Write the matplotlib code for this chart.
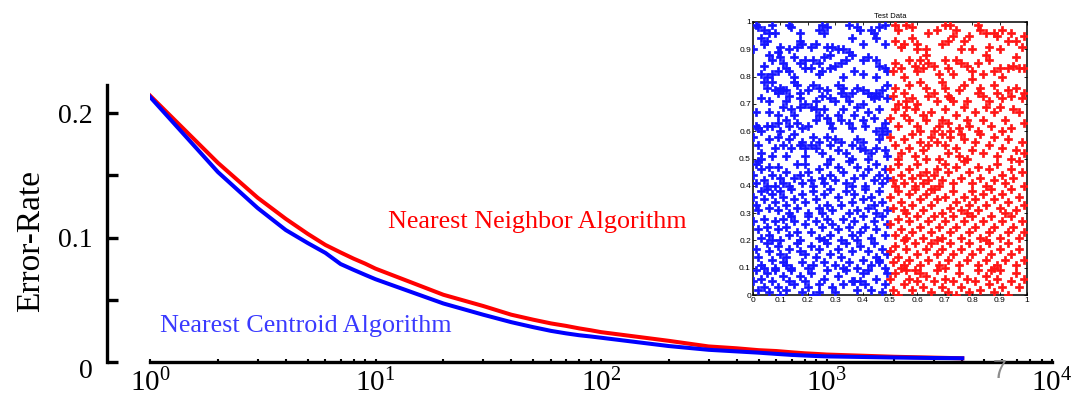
import matplotlib
matplotlib.use("Agg")
import matplotlib.pyplot as plt
import matplotlib.transforms as mtransforms
from matplotlib.ticker import FixedLocator, FixedFormatter, LogLocator, NullFormatter
import numpy as np

# ---------------- data ----------------
n_train = [1, 2, 3, 4, 5, 6, 7, 8, 9, 10, 20, 30, 40, 50, 60, 70, 80, 90, 100,
           200, 300, 400, 500, 600, 700, 800, 900, 1000, 2000, 3000, 4000]
err_nn = [0.214, 0.160, 0.132, 0.115, 0.103, 0.094, 0.088, 0.083, 0.079, 0.075,
          0.054, 0.045, 0.038, 0.034, 0.031, 0.029, 0.027, 0.0255, 0.024,
          0.017, 0.0125, 0.011, 0.0095, 0.0088, 0.0078, 0.007, 0.0065, 0.006,
          0.0042, 0.0035, 0.003]
err_nc = [0.213, 0.1526, 0.1237, 0.106, 0.0956, 0.0876, 0.0787, 0.074, 0.070, 0.0665,
          0.047, 0.038, 0.032, 0.028, 0.025, 0.023, 0.0215, 0.0205, 0.0195,
          0.0128, 0.0098, 0.0085, 0.0075, 0.0065, 0.0057, 0.0052, 0.0048, 0.0045,
          0.0036, 0.0032, 0.003]

y_ticks = [0, 0.05, 0.1, 0.15, 0.2]
y_ticklabels = ["0", "", "0.1", "", "0.2"]

blue_pts = [
    (0.01,0.99),(0.02,0.98),(0.04,0.97),(0.06,0.96),(0.07,0.99),(0.08,0.96),(0.03,0.94),(0.05,0.93),(0.04,0.92),(0.13,0.99),
    (0.14,0.98),(0.17,0.96),(0.17,0.93),(0.18,0.92),(0.16,0.91),(0.13,0.90),(0.10,0.91),(0.00,0.90),(0.25,0.99),(0.24,0.97),
    (0.27,0.98),(0.26,0.96),(0.35,0.99),(0.38,0.98),(0.39,0.97),(0.43,0.97),(0.44,0.96),(0.46,0.98),(0.48,0.99),(0.36,0.94),
    (0.40,0.92),(0.45,0.94),(0.48,0.92),(0.23,0.92),(0.27,0.91),(0.29,0.91),(0.31,0.90),(0.33,0.90),(0.35,0.89),(0.21,0.91),(0.09,0.89),
    (0.06,0.88),(0.07,0.86),(0.10,0.87),(0.11,0.85),(0.12,0.83),(0.09,0.82),(0.07,0.81),(0.04,0.84),(0.03,0.81),(0.15,0.87),
    (0.17,0.85),(0.19,0.86),(0.22,0.86),(0.24,0.85),(0.26,0.87),(0.28,0.88),(0.30,0.84),(0.32,0.85),(0.34,0.86),(0.36,0.88),
    (0.19,0.83),(0.21,0.83),(0.25,0.82),(0.28,0.83),(0.15,0.80),(0.13,0.82),(0.40,0.86),(0.42,0.87),(0.45,0.86),(0.46,0.84),
    (0.48,0.83),(0.49,0.82),(0.40,0.81),(0.45,0.80),(0.37,0.82),(0.33,0.80),(0.24,0.81),(0.05,0.80),
    (0.04,0.78),(0.05,0.76),(0.07,0.78),(0.08,0.75),(0.09,0.74),(0.10,0.76),(0.11,0.75),(0.12,0.75),(0.03,0.72),(0.06,0.71),
    (0.15,0.78),(0.16,0.77),(0.17,0.74),(0.17,0.72),(0.20,0.75),(0.22,0.77),(0.24,0.76),(0.25,0.73),(0.27,0.75),(0.28,0.72),
    (0.31,0.77),(0.32,0.74),(0.33,0.76),(0.34,0.73),(0.36,0.74),(0.38,0.76),(0.40,0.75),(0.42,0.74),(0.43,0.73),(0.44,0.72),
    (0.45,0.74),(0.46,0.73),(0.47,0.75),(0.49,0.77),(0.49,0.72),(0.40,0.70),(0.35,0.71),(0.30,0.71),(0.23,0.71),(0.12,0.71),(0.19,0.70),(0.13,0.73),
    (0.01,0.62),(0.02,0.61),(0.03,0.60),(0.05,0.62),(0.07,0.62),(0.09,0.66),(0.09,0.63),(0.10,0.60),(0.12,0.64),(0.13,0.62),
    (0.14,0.68),(0.15,0.66),(0.16,0.63),(0.18,0.61),(0.20,0.62),(0.21,0.69),(0.23,0.68),(0.23,0.64),(0.24,0.66),(0.26,0.68),
    (0.27,0.65),(0.28,0.63),(0.29,0.61),(0.31,0.66),(0.32,0.64),(0.33,0.68),(0.35,0.63),(0.36,0.61),(0.37,0.66),(0.40,0.64),
    (0.41,0.62),(0.42,0.67),(0.44,0.65),(0.45,0.60),(0.47,0.61),(0.49,0.60),(0.48,0.63),(0.46,0.68),(0.38,0.69),(0.11,0.69),(0.06,0.67),(0.01,0.67),(0.17,0.69),
    (0.00,0.58),(0.02,0.55),(0.03,0.52),(0.03,0.50),(0.01,0.48),(0.06,0.57),(0.08,0.54),(0.09,0.58),(0.11,0.55),(0.13,0.57),
    (0.14,0.54),(0.15,0.59),(0.17,0.55),(0.18,0.56),(0.19,0.54),(0.21,0.55),(0.22,0.58),(0.23,0.54),(0.24,0.56),(0.25,0.52),
    (0.27,0.58),(0.28,0.55),(0.30,0.57),(0.31,0.53),(0.32,0.56),(0.34,0.52),(0.36,0.55),(0.38,0.57),(0.39,0.54),(0.40,0.56),
    (0.41,0.53),(0.42,0.50),(0.43,0.52),(0.45,0.54),(0.46,0.57),(0.47,0.59),(0.48,0.53),(0.49,0.51),(0.12,0.51),(0.07,0.51),(0.19,0.51),(0.28,0.50),(0.36,0.50),
    (0.00,0.44),(0.01,0.41),(0.03,0.46),(0.04,0.42),(0.05,0.40),(0.06,0.47),(0.07,0.44),(0.09,0.47),(0.10,0.43),(0.11,0.41),
    (0.12,0.45),(0.13,0.40),(0.15,0.43),(0.16,0.48),(0.17,0.44),(0.18,0.41),(0.20,0.45),(0.21,0.42),(0.22,0.40),(0.24,0.46),
    (0.25,0.43),(0.26,0.41),(0.27,0.48),(0.28,0.44),(0.30,0.42),(0.31,0.47),(0.33,0.45),(0.34,0.41),(0.35,0.49),(0.37,0.43),
    (0.38,0.47),(0.40,0.44),(0.41,0.40),(0.42,0.46),(0.44,0.42),(0.45,0.48),(0.46,0.44),(0.47,0.41),(0.48,0.46),(0.49,0.43),(0.08,0.40),(0.19,0.48),(0.36,0.40),(0.02,0.49),
    (0.00,0.36),(0.01,0.33),(0.02,0.31),(0.03,0.38),(0.04,0.35),(0.06,0.32),(0.07,0.37),(0.08,0.34),(0.09,0.31),(0.10,0.38),
    (0.11,0.36),(0.12,0.33),(0.14,0.39),(0.15,0.35),(0.16,0.32),(0.18,0.37),(0.19,0.34),(0.20,0.30),(0.22,0.38),(0.23,0.35),
    (0.24,0.32),(0.26,0.37),(0.27,0.33),(0.28,0.39),(0.29,0.31),(0.31,0.36),(0.32,0.33),(0.34,0.38),(0.35,0.30),(0.36,0.34),
    (0.37,0.37),(0.38,0.31),(0.40,0.35),(0.41,0.39),(0.42,0.32),(0.43,0.36),(0.45,0.30),(0.46,0.38),(0.47,0.34),(0.49,0.31),(0.13,0.30),(0.05,0.39),(0.25,0.30),(0.44,0.33),
    (0.00,0.27),(0.02,0.24),(0.03,0.21),(0.04,0.28),(0.05,0.25),(0.06,0.22),(0.08,0.27),(0.09,0.24),(0.10,0.20),(0.11,0.28),
    (0.12,0.25),(0.13,0.22),(0.15,0.27),(0.16,0.23),(0.17,0.20),(0.19,0.26),(0.20,0.29),(0.21,0.23),(0.23,0.27),(0.24,0.21),
    (0.25,0.25),(0.27,0.28),(0.28,0.22),(0.29,0.26),(0.31,0.24),(0.32,0.20),(0.33,0.28),(0.35,0.25),(0.36,0.22),(0.37,0.27),
    (0.39,0.23),(0.40,0.29),(0.41,0.25),(0.43,0.21),(0.44,0.27),(0.45,0.24),(0.47,0.29),(0.48,0.22),(0.49,0.26),(0.07,0.20),(0.14,0.29),(0.26,0.20),(0.38,0.20),
    (0.01,0.17),(0.02,0.14),(0.03,0.11),(0.05,0.19),(0.06,0.16),(0.07,0.13),(0.08,0.10),(0.09,0.18),(0.10,0.15),(0.11,0.12),
    (0.12,0.14),(0.12,0.11),(0.13,0.17),(0.14,0.10),(0.16,0.19),(0.17,0.16),(0.18,0.12),(0.19,0.15),(0.21,0.18),(0.22,0.11),
    (0.23,0.14),(0.24,0.17),(0.26,0.12),(0.27,0.19),(0.28,0.15),(0.30,0.11),(0.31,0.17),(0.32,0.14),(0.34,0.19),(0.35,0.12),
    (0.36,0.16),(0.38,0.10),(0.39,0.18),(0.40,0.13),(0.42,0.16),(0.43,0.11),(0.44,0.19),(0.45,0.14),(0.46,0.12),(0.47,0.17),
    (0.48,0.10),(0.49,0.15),(0.04,0.10),(0.20,0.10),(0.33,0.10),
    (0.00,0.05),(0.01,0.09),(0.02,0.02),(0.03,0.06),(0.04,0.03),(0.05,0.08),(0.06,0.01),(0.07,0.05),(0.08,0.09),(0.09,0.03),
    (0.11,0.07),(0.12,0.02),(0.13,0.05),(0.14,0.09),(0.15,0.04),(0.17,0.07),(0.18,0.01),(0.19,0.05),(0.20,0.03),(0.21,0.08),
    (0.22,0.00),(0.24,0.04),(0.24,0.01),(0.26,0.06),(0.27,0.09),(0.29,0.03),(0.30,0.01),(0.31,0.07),(0.33,0.04),(0.34,0.09),
    (0.36,0.05),(0.37,0.05),(0.38,0.02),(0.39,0.05),(0.40,0.08),(0.41,0.04),(0.42,0.09),(0.43,0.02),(0.45,0.06),(0.46,0.13),
    (0.47,0.01),(0.48,0.04),(0.49,0.08),(0.10,0.00),
]
red_pts = [
    (0.52,0.99),(0.53,0.97),(0.56,0.99),(0.58,0.98),(0.52,0.93),(0.55,0.92),(0.58,0.94),(0.60,0.92),(0.63,0.90),(0.64,0.96),
    (0.67,0.97),(0.70,0.99),(0.72,0.99),(0.74,0.97),(0.73,0.95),(0.71,0.93),(0.69,0.92),(0.77,0.93),(0.79,0.95),(0.82,0.99),
    (0.83,0.97),(0.85,0.96),(0.88,0.96),(0.89,0.95),(0.91,0.97),(0.94,0.96),(0.93,0.93),(0.96,0.93),(0.99,0.95),(0.90,0.90),
    (0.86,0.91),(0.80,0.90),(0.76,0.90),(0.60,0.90),(0.54,0.91),(0.98,0.91),
    (0.52,0.85),(0.54,0.83),(0.57,0.86),(0.59,0.84),(0.61,0.86),(0.62,0.83),(0.64,0.85),(0.66,0.84),(0.70,0.86),(0.71,0.83),
    (0.74,0.86),(0.76,0.85),(0.78,0.84),(0.80,0.82),(0.82,0.85),(0.85,0.88),(0.86,0.86),(0.88,0.82),(0.90,0.83),(0.91,0.80),
    (0.93,0.83),(0.95,0.84),(0.97,0.83),(0.99,0.83),(0.55,0.80),(0.60,0.82),(0.68,0.81),(0.73,0.81),(0.84,0.81),(0.51,0.82),(0.63,0.88),(0.96,0.87),
    (0.51,0.73),(0.52,0.76),(0.55,0.74),(0.56,0.71),(0.58,0.72),(0.60,0.70),(0.61,0.78),(0.63,0.76),(0.64,0.73),(0.66,0.74),
    (0.67,0.71),(0.70,0.76),(0.71,0.73),(0.72,0.72),(0.73,0.71),(0.75,0.75),(0.77,0.77),(0.80,0.79),(0.82,0.74),(0.83,0.76),
    (0.84,0.73),(0.86,0.71),(0.88,0.77),(0.89,0.74),(0.91,0.72),(0.93,0.75),(0.94,0.73),(0.96,0.76),(0.98,0.72),(0.99,0.74),(0.53,0.70),(0.78,0.71),(0.69,0.78),(0.57,0.77),
    (0.50,0.65),(0.52,0.68),(0.53,0.62),(0.55,0.66),(0.57,0.64),(0.59,0.68),(0.60,0.62),(0.62,0.66),(0.63,0.64),(0.65,0.67),
    (0.66,0.60),(0.68,0.62),(0.69,0.64),(0.71,0.63),(0.72,0.60),(0.74,0.66),(0.75,0.61),(0.77,0.69),(0.78,0.64),(0.79,0.62),
    (0.81,0.67),(0.82,0.60),(0.84,0.64),(0.85,0.69),(0.87,0.62),(0.88,0.67),(0.90,0.69),(0.92,0.64),(0.94,0.61),(0.95,0.68),(0.97,0.67),(0.99,0.63),(0.56,0.69),(0.61,0.60),(0.70,0.68),(0.91,0.60),
    (0.50,0.58),(0.52,0.55),(0.54,0.52),(0.55,0.57),(0.57,0.54),(0.58,0.59),(0.59,0.51),(0.61,0.56),(0.62,0.53),(0.64,0.55),
    (0.65,0.58),(0.67,0.56),(0.68,0.50),(0.70,0.55),(0.71,0.52),(0.72,0.58),(0.74,0.54),(0.75,0.51),(0.77,0.57),(0.78,0.50),
    (0.80,0.53),(0.81,0.56),(0.83,0.59),(0.84,0.52),(0.86,0.55),(0.88,0.58),(0.89,0.51),(0.91,0.54),(0.93,0.57),(0.94,0.50),(0.96,0.53),(0.98,0.56),(0.99,0.52),(0.53,0.50),(0.63,0.50),(0.76,0.59),(0.69,0.59),
    (0.50,0.46),(0.51,0.42),(0.53,0.48),(0.54,0.44),(0.55,0.41),(0.57,0.46),(0.58,0.43),(0.60,0.48),(0.61,0.44),(0.62,0.41),
    (0.63,0.45),(0.64,0.42),(0.65,0.39),(0.66,0.44),(0.67,0.46),(0.69,0.42),(0.70,0.48),(0.71,0.45),(0.73,0.41),(0.74,0.47),
    (0.76,0.43),(0.77,0.49),(0.79,0.45),(0.80,0.41),(0.82,0.47),(0.83,0.43),(0.85,0.40),(0.86,0.46),(0.88,0.42),(0.89,0.48),
    (0.91,0.44),(0.92,0.41),(0.94,0.46),(0.95,0.43),(0.97,0.49),(0.98,0.45),(0.99,0.40),(0.52,0.40),(0.68,0.40),(0.59,0.40),
    (0.50,0.36),(0.51,0.32),(0.53,0.38),(0.54,0.34),(0.55,0.31),(0.57,0.37),(0.58,0.33),(0.59,0.39),(0.61,0.35),(0.62,0.31),
    (0.63,0.37),(0.65,0.33),(0.66,0.39),(0.67,0.35),(0.69,0.30),(0.70,0.36),(0.72,0.32),(0.73,0.38),(0.74,0.34),(0.76,0.31),
    (0.77,0.36),(0.79,0.33),(0.80,0.38),(0.81,0.35),(0.82,0.31),(0.84,0.37),(0.85,0.33),(0.87,0.39),(0.88,0.35),(0.90,0.32),
    (0.91,0.37),(0.93,0.34),(0.94,0.39),(0.96,0.31),(0.97,0.36),(0.99,0.33),(0.56,0.30),(0.78,0.30),(0.92,0.30),
    (0.50,0.26),(0.52,0.22),(0.53,0.28),(0.54,0.24),(0.56,0.21),(0.57,0.27),(0.58,0.23),(0.60,0.29),(0.61,0.25),(0.62,0.21),
    (0.64,0.27),(0.65,0.23),(0.66,0.29),(0.68,0.25),(0.69,0.21),(0.70,0.27),(0.72,0.23),(0.73,0.29),(0.74,0.25),(0.76,0.21),
    (0.77,0.27),(0.79,0.23),(0.80,0.29),(0.81,0.25),(0.83,0.21),(0.84,0.27),(0.86,0.23),(0.87,0.29),(0.88,0.25),(0.90,0.21),
    (0.91,0.27),(0.93,0.23),(0.94,0.29),(0.95,0.25),(0.97,0.21),(0.98,0.27),(0.99,0.23),(0.55,0.20),(0.67,0.20),(0.85,0.20),
    (0.50,0.16),(0.51,0.12),(0.52,0.18),(0.53,0.14),(0.55,0.11),(0.56,0.17),(0.57,0.13),(0.59,0.19),(0.60,0.15),(0.61,0.11),
    (0.63,0.17),(0.64,0.13),(0.65,0.19),(0.67,0.15),(0.68,0.11),(0.69,0.17),(0.71,0.13),(0.72,0.19),(0.73,0.15),(0.75,0.11),
    (0.76,0.17),(0.78,0.13),(0.79,0.19),(0.80,0.15),(0.82,0.11),(0.83,0.17),(0.85,0.13),(0.86,0.19),(0.87,0.15),(0.89,0.11),
    (0.90,0.17),(0.92,0.13),(0.93,0.19),(0.94,0.15),(0.96,0.11),(0.97,0.17),(0.99,0.13),(0.54,0.10),(0.70,0.10),(0.88,0.10),
    (0.50,0.06),(0.51,0.02),(0.52,0.08),(0.53,0.00),(0.55,0.04),(0.56,0.09),(0.57,0.06),(0.58,0.02),(0.60,0.05),(0.61,0.08),
    (0.62,0.03),(0.63,0.07),(0.65,0.01),(0.66,0.05),(0.67,0.09),(0.69,0.03),(0.70,0.06),(0.71,0.01),(0.73,0.05),(0.74,0.00),
    (0.75,0.08),(0.76,0.03),(0.78,0.06),(0.79,0.01),(0.81,0.05),(0.82,0.09),(0.83,0.02),(0.85,0.07),(0.86,0.04),(0.88,0.01),
    (0.89,0.06),(0.90,0.09),(0.91,0.03),(0.93,0.00),(0.94,0.05),(0.96,0.08),(0.97,0.03),(0.99,0.06),(0.59,0.09),(0.87,0.09),
]

# ---------------- figure ----------------
plt.rcParams['font.family'] = ['Liberation Serif', 'DejaVu Serif']
plt.rcParams['mathtext.fontset'] = 'stix'

W, H = 1086, 397
fig = plt.figure(figsize=(W / 100, H / 100), dpi=100)

ax = fig.add_axes([150 / W, 35 / H, 902 / W, 277 / H])
ax.set_xscale('log')
ax.plot(n_train, err_nn, color='#ff0000', lw=2.9, solid_joinstyle='round')
ax.plot(n_train, err_nc, color='#0000ff', lw=2.9, solid_joinstyle='round')
ax.set_xlim(1, 1e4)
ax.set_ylim(0, 0.2225)

for s in ['top', 'right']:
    ax.spines[s].set_visible(False)
ax.spines['left'].set_position(('outward', 31))
ax.spines['left'].set_linewidth(2.4)
ax.spines['bottom'].set_linewidth(2.4)

ax.yaxis.set_major_locator(FixedLocator(y_ticks))
ax.yaxis.set_major_formatter(FixedFormatter(y_ticklabels))
ax.tick_params(axis='y', direction='in', length=8, width=2.4, pad=10, labelsize=20)
ax.xaxis.set_major_locator(LogLocator(base=10, numticks=10))
ax.xaxis.set_minor_locator(LogLocator(base=10, subs=np.arange(2, 10), numticks=20))
ax.xaxis.set_minor_formatter(NullFormatter())
ax.tick_params(axis='x', which='both', direction='in', length=2.5, width=1.5, pad=5, labelsize=21)

fig.canvas.draw()
zero_tick = ax.yaxis.get_major_ticks()[0]
zero_tick.label1.set_transform(zero_tick.label1.get_transform() +
                               mtransforms.ScaledTranslation(0, -7 / 100, fig.dpi_scale_trans))

fig.text(31 / W, 1 - 241 / H, 'Error-Rate', rotation=90, ha='center', va='center', fontsize=24)
fig.text(388 / W, 1 - 222 / H, 'Nearest Neighbor Algorithm', color='#ff0000',
         ha='left', va='center', fontsize=18.8)
fig.text(160 / W, 1 - 326 / H, 'Nearest Centroid Algorithm', color='#3a3aff',
         ha='left', va='center', fontsize=18.8)
fig.text(1000 / W, 1 - 371 / H, '7', color='#8c8c8c', ha='center', va='center',
         fontsize=18, family='Liberation Sans')

# ---------------- inset ----------------
ins = fig.add_axes([753 / W, 1 - 295 / H, 274 / W, 273 / H])
bx, by = zip(*blue_pts)
rx, ry = zip(*red_pts)
ins.scatter(bx, by, marker='P', s=26, color='#1515ff', edgecolors='#1515ff',
            linewidths=0.5, zorder=3)
ins.scatter(rx, ry, marker='P', s=26, color='#ff1515', edgecolors='#ff1515',
            linewidths=0.5, zorder=3)
ins.set_xlim(0, 1)
ins.set_ylim(0, 1)
ticks01 = np.round(np.arange(0, 1.01, 0.1), 1)
lbl01 = ['0'] + ['%.1f' % t for t in ticks01[1:-1]] + ['1']
ins.set_xticks(ticks01)
ins.set_yticks(ticks01)
ins.set_xticklabels(lbl01, family='Liberation Sans')
ins.set_yticklabels(lbl01, family='Liberation Sans')
ins.tick_params(direction='in', length=2, width=0.6, labelsize=6, pad=1.5,
                top=True, right=True)
for s in ins.spines.values():
    s.set_linewidth(1.1)
ins.set_title('Test Data', fontsize=5.5, family='Liberation Sans', pad=3)

fig.savefig('out.png', dpi=100)
